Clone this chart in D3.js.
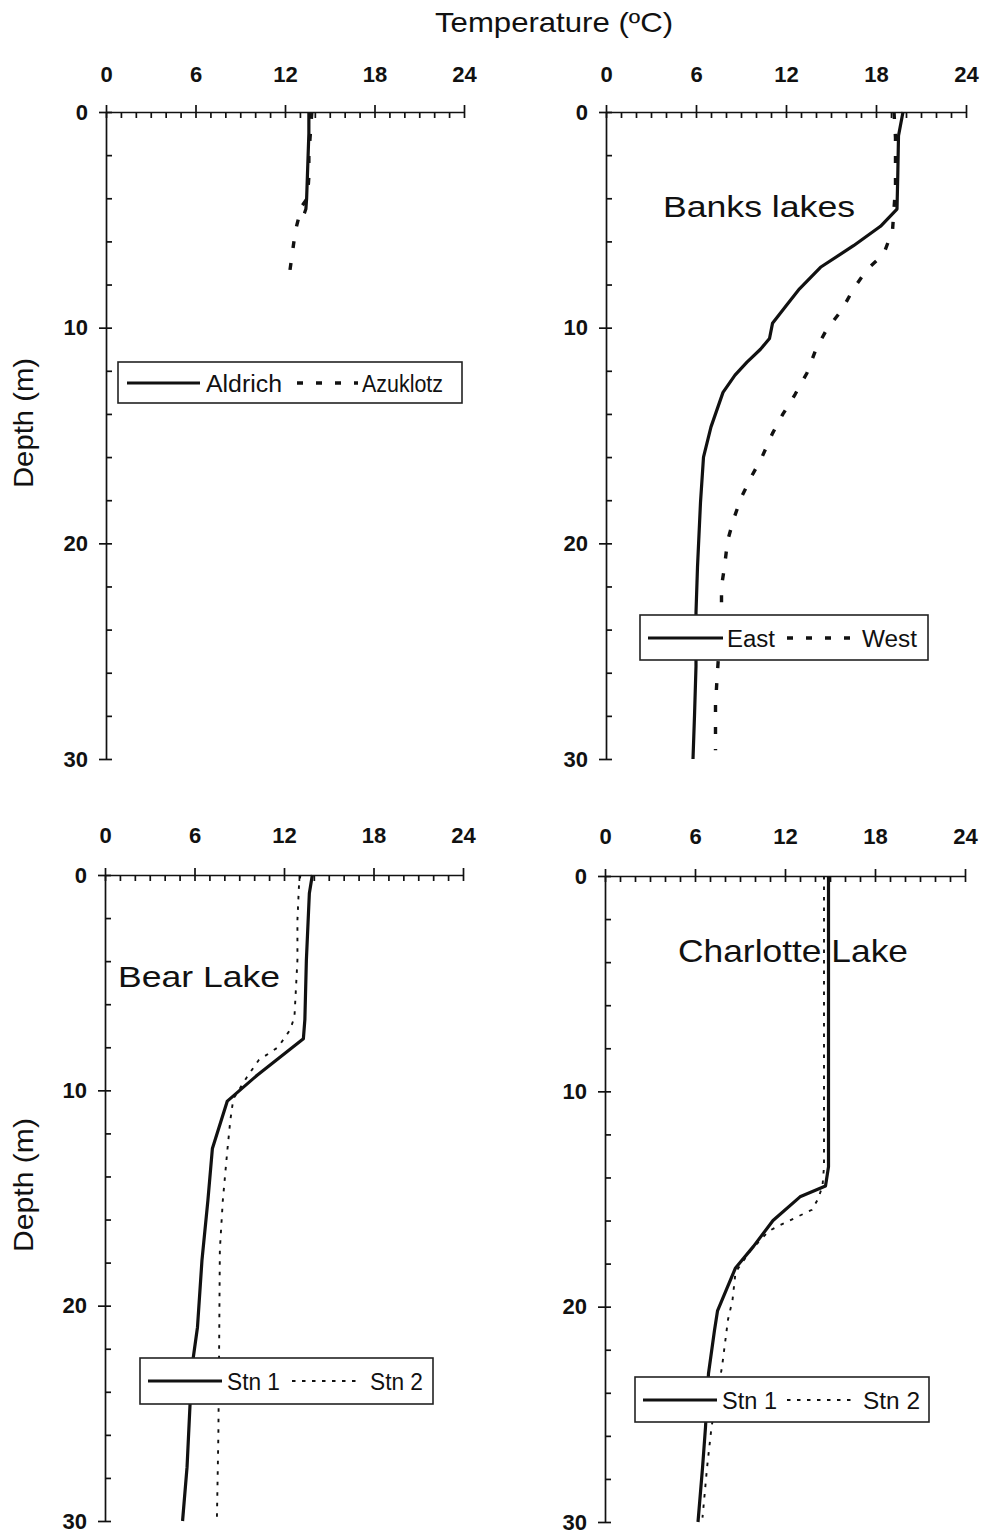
<!DOCTYPE html>
<html>
<head>
<meta charset="utf-8">
<script src="https://cdn.jsdelivr.net/npm/d3@7"></script>
<style>
  body { margin: 0; background: #fff; }
  svg text { font-family: "Liberation Sans", Arial, sans-serif; fill: #111; }
</style>
</head>
<body>
<div id="canvas"></div>
<script>
// tick values
const xTicks = [0, 6, 12, 18, 24];
const yTicks = [0, 10, 20, 30];

// profiles: [temperature (C), depth (m)]
const aldrich = [[13.6, 0], [13.6, 1], [13.55, 2], [13.5, 3], [13.45, 4], [13.4, 4.5], [13.3, 4.7]];
const azuklotz = [[13.8, 0], [13.7, 1], [13.6, 2], [13.6, 3], [13.5, 4], [13.1, 4.4], [12.7, 5.5], [12.5, 6.5], [12.3, 7.5]];

const banksEast = [[19.8, 0], [19.5, 1.1], [19.45, 3], [19.4, 4.5], [18.3, 5.3], [16.5, 6.2], [14.3, 7.2], [12.9, 8.2],
  [12.1, 8.9], [11.1, 9.8], [10.9, 10.5], [10.3, 11.0], [9.4, 11.6], [8.6, 12.2], [7.8, 13.0], [7.0, 14.6], [6.5, 16.0],
  [6.3, 18.1], [6.1, 21.1], [6.0, 23.2], [6.0, 25.7], [5.9, 28], [5.8, 30]];
const banksWest = [[19.2, 0], [19.3, 1.2], [19.3, 3.5], [19.1, 5.5], [18.5, 6.6], [17.4, 7.3], [16.5, 8.2], [15.7, 9.2],
  [14.7, 10.1], [14.0, 11.0], [13.4, 12.1], [12.6, 13.1], [11.8, 14.0], [11.1, 14.9], [10.4, 16.0], [9.7, 16.9],
  [9.0, 17.9], [8.5, 18.9], [8.1, 19.9], [7.9, 21.1], [7.7, 22.0], [7.7, 23.1], [7.4, 26.3], [7.3, 27.5], [7.3, 29.6]];

const bearStn1 = [[13.9, 0], [13.7, 0.85], [13.5, 3.95], [13.4, 6.7], [13.3, 7.6], [10.2, 9.3], [8.2, 10.5], [7.2, 12.7],
  [6.9, 15.1], [6.5, 17.9], [6.2, 21.0], [5.9, 22.5], [5.7, 24.6], [5.5, 27.5], [5.2, 30]];
const bearStn2 = [[13.1, 0], [13.0, 0.55], [12.9, 2.1], [12.9, 3.95], [12.7, 6.6], [12.4, 7.2], [11.6, 8.0], [10.3, 8.6],
  [9.5, 9.4], [8.6, 10.4], [8.4, 11.4], [8.2, 12.8], [7.9, 15.1], [7.7, 17.4], [7.65, 22.1], [7.6, 26], [7.5, 30]];

const charlotteStn1 = [[14.9, 0], [14.9, 10.4], [14.9, 13.5], [14.7, 14.4], [13.0, 14.9], [11.2, 16.0], [9.9, 17.2],
  [8.7, 18.2], [8.1, 19.2], [7.5, 20.2], [7.3, 21.1], [6.9, 23.1], [6.7, 25.6], [6.5, 27.5], [6.2, 30]];
const charlotteStn2 = [[14.6, 0], [14.6, 13.5], [14.5, 14.4], [14.2, 15.0], [13.8, 15.5], [13.2, 15.7], [11.7, 16.2],
  [10.9, 16.5], [9.7, 17.4], [8.7, 18.4], [8.5, 19.7], [8.2, 20.6], [7.8, 22.8], [7.1, 25.6], [6.8, 27.5], [6.5, 29.8]];

const solid = { width: 3.2, dash: null, legendDash: null };
const dashed = { width: 3.4, dash: '7,15', legendDash: '6,13' };
const dotted = { width: 1.9, dash: '3.5,7', legendDash: '3.5,6.5' };

const width = 984, height = 1536;
const svg = d3.select('#canvas').append('svg')
  .attr('width', width)
  .attr('height', height);

const panels = [
  {
    xRange: [106, 464], yRange: [112, 759], xPad: 23,
    series: [{ data: aldrich, style: solid, name: 'Aldrich' }, { data: azuklotz, style: dashed, name: 'Azuklotz' }],
    legend: { box: [118, 362, 344, 41], cy: 383, items: [[127, 200, 206, 76], [297, 358, 362, 81]] }
  },
  {
    xRange: [606, 966], yRange: [112, 759], xPad: 23,
    label: { text: 'Banks lakes', x: 663, y: 217, size: 30, len: 192 },
    series: [{ data: banksEast, style: solid, name: 'East' }, { data: banksWest, style: dashed, name: 'West' }],
    legend: { box: [640, 615, 288, 45], cy: 638, items: [[648, 723, 727, 48], [787, 857, 862, 55]] }
  },
  {
    xRange: [105, 463], yRange: [875, 1521], xPad: 25,
    label: { text: 'Bear Lake', x: 118, y: 987, size: 30, len: 162 },
    series: [{ data: bearStn1, style: solid, name: 'Stn 1' }, { data: bearStn2, style: dotted, name: 'Stn 2' }],
    legend: { box: [140, 1358, 293, 46], cy: 1381, items: [[148, 222, 227, 53], [292, 360, 370, 53]] }
  },
  {
    xRange: [605, 965], yRange: [876, 1522], xPad: 25,
    label: { text: 'Charlotte Lake', x: 678, y: 962, size: 32, len: 230 },
    series: [{ data: charlotteStn1, style: solid, name: 'Stn 1' }, { data: charlotteStn2, style: dotted, name: 'Stn 2' }],
    legend: { box: [635, 1377, 294, 45], cy: 1400, items: [[643, 717, 722, 55], [787, 853, 863, 57]] }
  }
];

function styleAxis(a) {
  a.selectAll('path, line').attr('stroke', '#111').attr('stroke-width', 1.7);
  a.selectAll('text').attr('font-size', 22).attr('font-weight', 'bold').attr('fill', '#111');
}

function drawPanel(p) {
  const x = d3.scaleLinear().domain([0, 24]).range(p.xRange);
  const y = d3.scaleLinear().domain([0, 30]).range(p.yRange);
  const g = svg.append('g');

  // minor ticks, pointing into the plot
  g.append('g')
    .attr('transform', `translate(0,${y(0)})`)
    .call(d3.axisBottom(x).tickValues(d3.range(0, 25, 1)).tickSize(6).tickFormat(''))
    .call(a => a.select('.domain').remove())
    .call(styleAxis);
  g.append('g')
    .attr('transform', `translate(${x(0)},0)`)
    .call(d3.axisRight(y).tickValues(d3.range(0, 31, 2)).tickSize(6).tickFormat(''))
    .call(a => a.select('.domain').remove())
    .call(styleAxis);

  // major ticks + labels
  g.append('g')
    .attr('transform', `translate(0,${y(0)})`)
    .call(d3.axisTop(x).tickValues(xTicks).tickSize(7).tickSizeOuter(0).tickPadding(p.xPad))
    .call(styleAxis);
  g.append('g')
    .attr('transform', `translate(${x(0)},0)`)
    .call(d3.axisLeft(y).tickValues(yTicks).tickSize(7).tickSizeOuter(0).tickPadding(11))
    .call(styleAxis);

  const line = d3.line().x(d => x(d[0])).y(d => y(d[1]));
  p.series.forEach(s => {
    g.append('path')
      .datum(s.data)
      .attr('d', line)
      .attr('fill', 'none')
      .attr('stroke', '#111')
      .attr('stroke-width', s.style.width)
      .attr('stroke-linejoin', 'round')
      .attr('stroke-dasharray', s.style.dash);
  });

  if (p.label) {
    g.append('text')
      .attr('x', p.label.x).attr('y', p.label.y)
      .attr('font-size', p.label.size)
      .attr('textLength', p.label.len)
      .attr('lengthAdjust', 'spacingAndGlyphs')
      .text(p.label.text);
  }

  // legend box sits over the lines
  const L = p.legend;
  const lg = g.append('g');
  lg.append('rect')
    .attr('x', L.box[0]).attr('y', L.box[1])
    .attr('width', L.box[2]).attr('height', L.box[3])
    .attr('fill', '#fff').attr('stroke', '#222').attr('stroke-width', 1.6);
  p.series.forEach((s, i) => {
    const it = L.items[i];
    lg.append('line')
      .attr('x1', it[0]).attr('x2', it[1])
      .attr('y1', L.cy).attr('y2', L.cy)
      .attr('stroke', '#111')
      .attr('stroke-width', s.style.width)
      .attr('stroke-dasharray', s.style.legendDash);
    lg.append('text')
      .attr('x', it[2]).attr('y', L.cy + 8.5)
      .attr('font-size', 23)
      .attr('textLength', it[3])
      .attr('lengthAdjust', 'spacingAndGlyphs')
      .text(s.name);
  });
}

panels.forEach(drawPanel);

// shared titles
svg.append('text')
  .attr('x', 435).attr('y', 32)
  .attr('font-size', 28)
  .attr('textLength', 238)
  .attr('lengthAdjust', 'spacingAndGlyphs')
  .text('Temperature (ºC)');

[[423, 130], [1185, 134]].forEach(([cy, len]) => {
  svg.append('text')
    .attr('transform', `translate(33,${cy}) rotate(-90)`)
    .attr('text-anchor', 'middle')
    .attr('font-size', 28)
    .attr('textLength', len)
    .attr('lengthAdjust', 'spacingAndGlyphs')
    .text('Depth (m)');
});
</script>
</body>
</html>
